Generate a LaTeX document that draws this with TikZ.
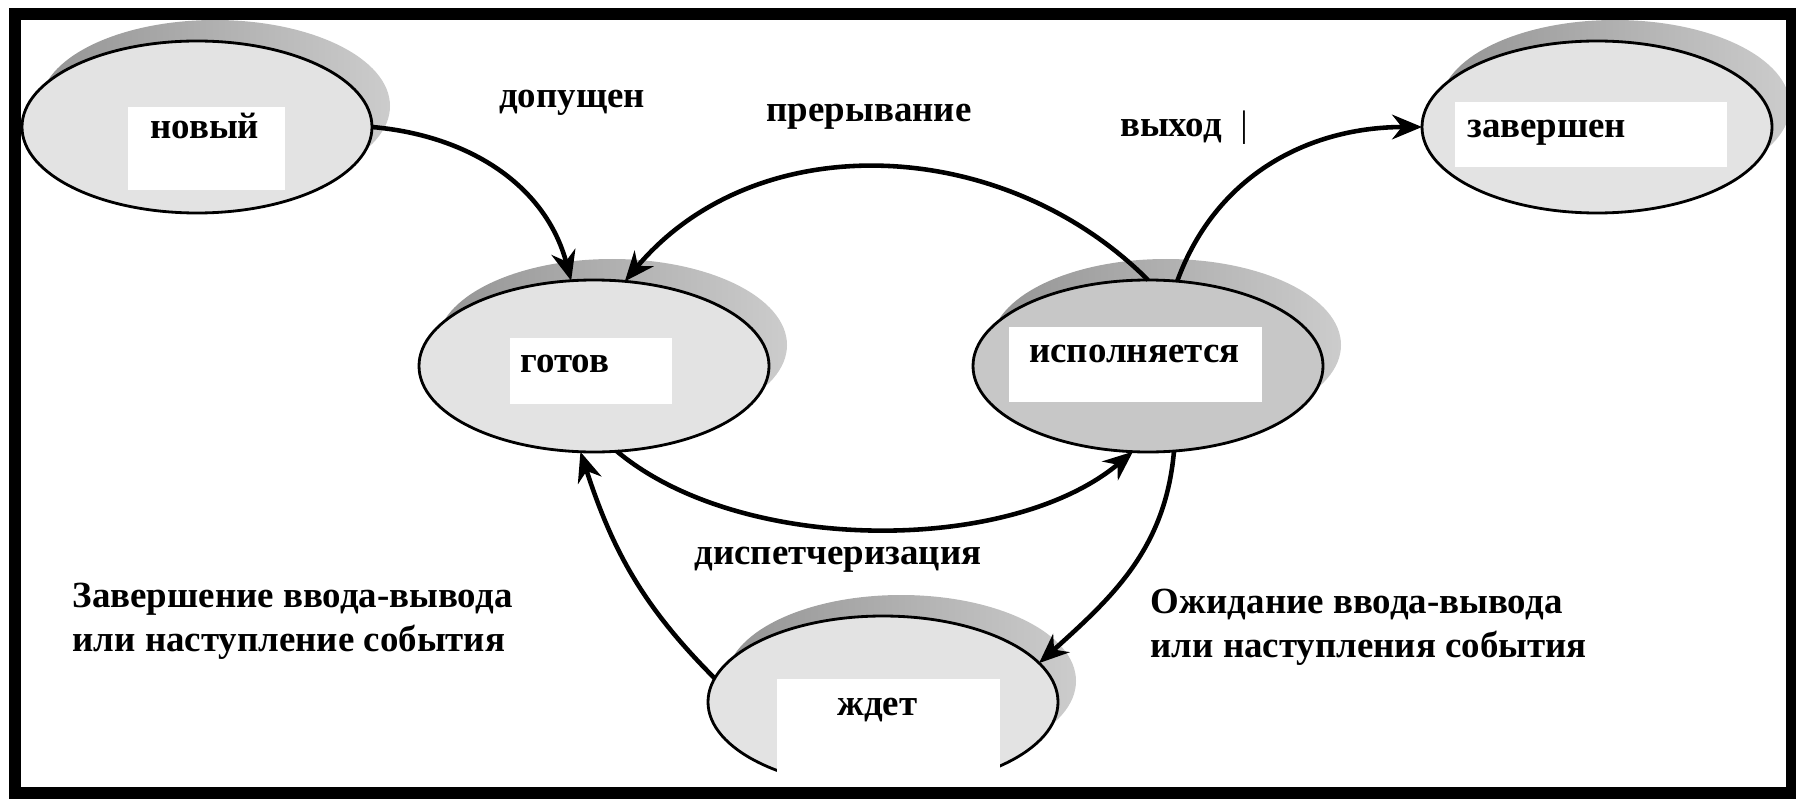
\documentclass[tikz,border=0pt]{standalone}
\usepackage{fontspec}
\setmainfont{Liberation Serif}
\usepackage{tikz}
\usetikzlibrary{shapes.geometric,arrows.meta,positioning}

\begin{document}
\begin{tikzpicture}[>={Stealth[length=8.5pt,width=7pt]}, node distance=5.54cm,
	font=\fontsize{10.5}{12.5}\selectfont\bfseries]
	\tikzstyle{state} = [ellipse, draw, line width=0.8pt, fill=black!11, minimum width=3.5cm, minimum height=1.72cm, inner sep=0pt, outer sep=0pt,
		preaction={draw=none, left color=black!42, right color=black!20, transform canvas={xshift=0.18cm, yshift=0.21cm}}]
	\tikzstyle{tbox} = [fill=white, anchor=north west, align=left, inner ysep=0pt]
	\tikzstyle{lbl} = [align=left, inner sep=0pt]

	\useasboundingbox (0,0) rectangle (17.96,7.99);

	\begin{scope}
	\path[->, line width=1.3pt]

	node[state] (ready) at (5.94,4.33) {}
	node[state, fill=black!22, right of=ready] (run) {}
	node[state] (new) at (1.97,6.72) {}
	node[state] (done) at (15.97,6.72) {}
	node[state] (waiting) at (8.83,0.97) {}

	node[tbox, inner xsep=0.22cm, text width=1.13cm, text height=0.31cm, text depth=0.52cm] (newtxt) at (1.26,6.94) {новый}
	node[tbox, inner xsep=0.12cm, text width=2.48cm, text height=0.35cm, text depth=0.30cm] (donetxt) at (14.53,6.99) {завершен}
	node[tbox, inner xsep=0.10cm, text width=1.42cm, text height=0.34cm, text depth=0.32cm] (readytxt) at (5.08,4.63) {готов}
	node[tbox, inner xsep=0.20cm, text width=2.13cm, text height=0.35cm, text depth=0.40cm] (runtxt) at (10.07,4.74) {исполняется}
	node[tbox, inner xsep=0.60cm, text width=1.03cm, text height=0.36cm, text depth=0.75cm] (waitingtxt) at (7.75,1.22) {ждет}

	(new.east) edge[out=-5, in=105] (ready.105)
	(run.north) edge[out=135, in=50] (ready.70)
	(ready.-75) edge[out=-40, in=-140, looseness=0.8] (run.-100)
	(waiting.172) edge[out=135, in=-72] (ready.-99)
	(run.-73) edge[out=-95, in=42] (waiting.14)
	(run.71) edge[out=70, in=180] (done.west)
	;
	\end{scope}

	\node[lbl] (admit) at (5.72,6.96) {допущен};
	\node[lbl] (intr) at (8.69,6.82) {прерывание};
	\node[lbl] (exit) at (11.84,6.71) {выход\enspace{\mdseries|}};
	\node[lbl] (disp) at (8.38,2.39) {диспетчеризация};
	\node[lbl, anchor=west] (iodone) at (0.72,1.78) {Завершение ввода-вывода\\или наступление события};
	\node[lbl, anchor=west] (iowait) at (11.50,1.72) {Ожидание ввода-вывода\\или наступления события};

	\draw[line width=3.4pt] (0.15,0.06) rectangle (17.92,7.85);
\end{tikzpicture}
\end{document}
